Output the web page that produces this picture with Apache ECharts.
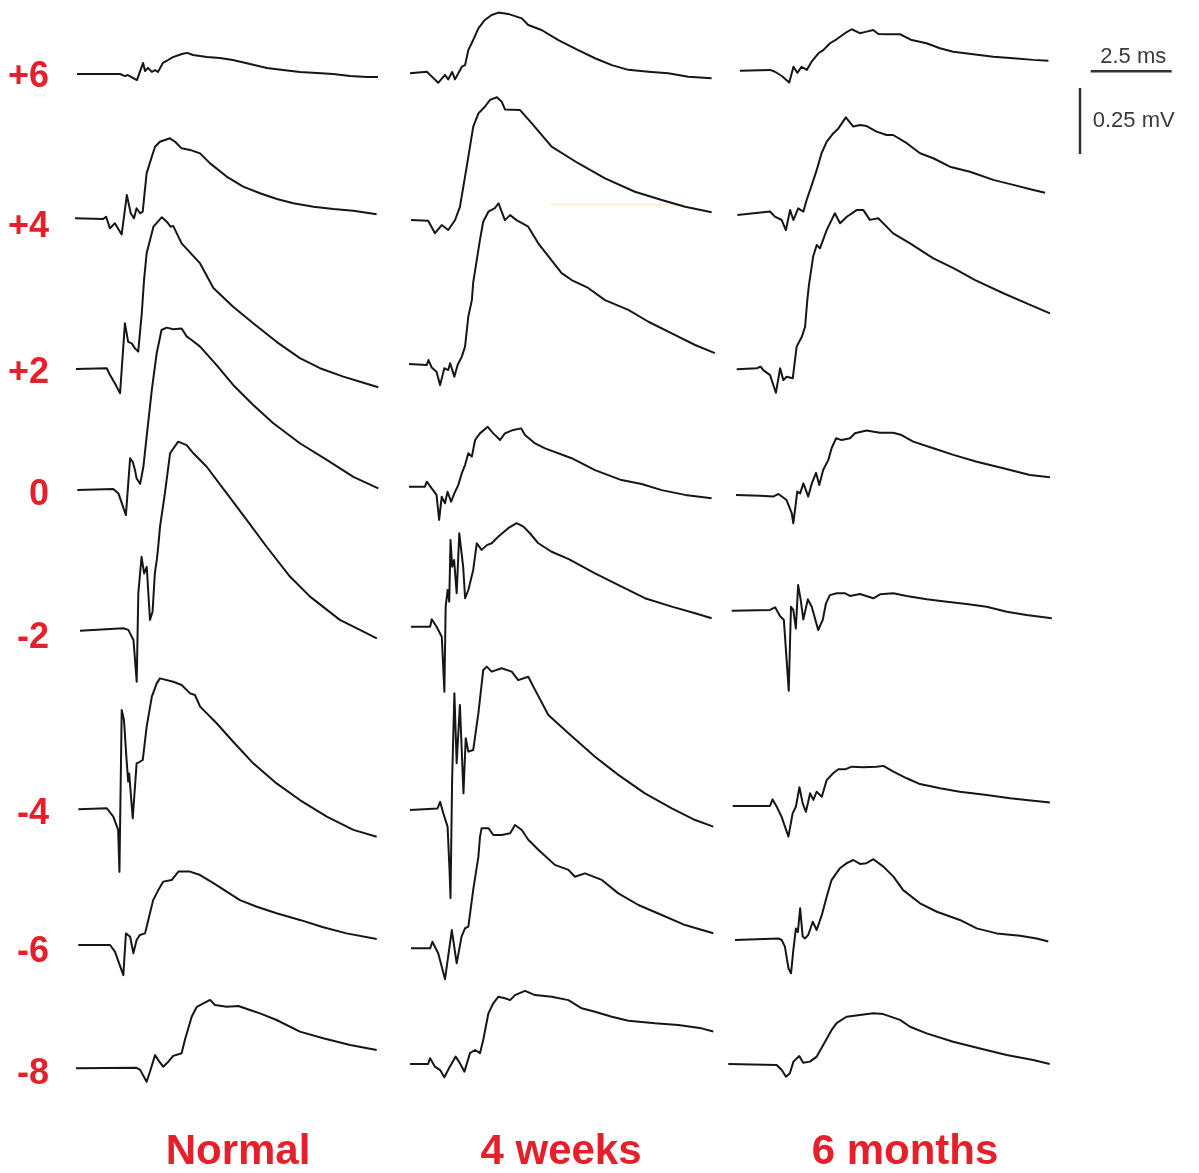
<!DOCTYPE html>
<html>
<head>
<meta charset="utf-8">
<script src="https://cdn.jsdelivr.net/npm/echarts@6/dist/echarts.min.js"></script>
<style>
  html, body { margin: 0; padding: 0; background: #ffffff; }
  #chart { width: 1199px; height: 1173px; }
</style>
</head>
<body>
<div id="chart"></div>
<script>
// Evoked field potentials: each trace is [time (ms), voltage (mV)] relative to its own baseline.

const rowLabels = ['+6', '+4', '+2', '0', '-2', '-4', '-6', '-8'];
const columnLabels = ['Normal', '4 weeks', '6 months'];
const scaleTime = 2.5;   // ms
const scaleVolt = 0.25;  // mV

// ---- Normal ----
const normal_p6 = [[0,0],[1.33,0],[1.48,-0.008],[1.57,-0.004],[1.85,-0.023],[2.04,0.042],[2.10,0.011],[2.19,0.023],[2.31,0.008],[2.41,0.015],[2.50,0.008],[2.65,0.042],[2.81,0.053],[2.96,0.064],[3.24,0.076],[3.40,0.080],[3.58,0.072],[4.01,0.064],[4.41,0.061],[4.81,0.053],[5.34,0.038],[5.86,0.023],[6.36,0.015],[6.88,0.008],[7.41,0.004],[7.90,0],[8.43,-0.008],[8.95,-0.011],[9.29,-0.011]];
const normal_p4 = [[0,0],[0.87,-0.003],[0.96,0.006],[1.08,-0.038],[1.23,-0.019],[1.44,-0.061],[1.60,0.088],[1.72,0.019],[1.82,0],[1.90,0.038],[2.01,0.019],[2.09,0.025],[2.21,0.170],[2.37,0.233],[2.47,0.271],[2.62,0.290],[2.93,0.303],[3.09,0.290],[3.29,0.265],[3.55,0.259],[3.86,0.246],[4.17,0.208],[4.68,0.158],[5.19,0.120],[5.71,0.095],[6.23,0.073],[6.74,0.057],[7.36,0.044],[7.97,0.035],[8.59,0.029],[9.31,0.015]];
const normal_p2 = [[0,0],[0.95,0.003],[1.05,-0.023],[1.23,-0.061],[1.36,-0.092],[1.51,0.173],[1.61,0.103],[1.72,0.097],[1.82,0.078],[1.92,0.066],[2.03,0.211],[2.10,0.337],[2.18,0.438],[2.39,0.539],[2.65,0.575],[2.80,0.558],[2.92,0.539],[3.00,0.542],[3.26,0.476],[3.83,0.400],[4.24,0.307],[4.85,0.236],[5.47,0.173],[6.19,0.103],[6.91,0.041],[7.53,0.003],[8.25,-0.029],[8.77,-0.048],[9.33,-0.069]];
const normal_0 = [[0,0],[1.11,0.004],[1.27,-0.013],[1.50,-0.095],[1.63,0.120],[1.71,0.107],[1.78,0.076],[1.83,0.044],[1.94,0.023],[2.04,0.088],[2.14,0.202],[2.30,0.379],[2.45,0.518],[2.60,0.606],[2.76,0.615],[2.96,0.609],[3.22,0.612],[3.38,0.581],[3.53,0.568],[3.79,0.543],[4.30,0.473],[4.81,0.398],[5.43,0.322],[6.05,0.253],[6.87,0.177],[7.70,0.114],[8.52,0.050],[9.29,0.006]];
const normal_m2 = [[0,0],[1.34,0.009],[1.49,0.003],[1.65,-0.035],[1.75,-0.193],[1.80,0.142],[1.90,0.280],[1.98,0.217],[2.06,0.242],[2.16,0.041],[2.24,0.072],[2.31,0.217],[2.37,0.268],[2.41,0.313],[2.47,0.394],[2.62,0.520],[2.78,0.672],[3.03,0.716],[3.29,0.703],[3.50,0.672],[3.91,0.621],[4.53,0.520],[5.15,0.419],[5.76,0.318],[6.48,0.205],[7.10,0.129],[8.02,0.041],[8.64,0.003],[9.16,-0.029]];
const normal_m4 = [[0,0],[0.88,0.004],[1.08,-0.028],[1.23,-0.078],[1.27,-0.237],[1.34,0.376],[1.41,0.338],[1.49,0.187],[1.54,0.105],[1.57,0.136],[1.68,-0.034],[1.80,0.174],[1.90,0.180],[1.99,0.187],[2.11,0.313],[2.27,0.427],[2.42,0.477],[2.52,0.496],[2.93,0.483],[3.19,0.471],[3.45,0.439],[3.60,0.433],[3.76,0.389],[4.27,0.326],[4.78,0.256],[5.40,0.174],[6.12,0.098],[6.84,0.035],[7.67,-0.028],[8.49,-0.078],[9.21,-0.104]];
const normal_m6 = [[0,0],[0.98,0],[1.13,-0.025],[1.39,-0.114],[1.47,0.044],[1.60,0.031],[1.70,-0.031],[1.80,0.019],[1.90,0.038],[2.06,0.044],[2.16,0.095],[2.31,0.170],[2.47,0.208],[2.62,0.240],[2.88,0.246],[3.09,0.278],[3.45,0.278],[3.76,0.265],[4.17,0.234],[4.58,0.202],[4.99,0.170],[5.51,0.145],[6.12,0.120],[6.84,0.095],[7.56,0.067],[8.28,0.044],[9.21,0.023]];
const normal_m8 = [[0,0],[1.87,0.002],[1.98,-0.006],[2.18,-0.051],[2.28,-0.014],[2.44,0.050],[2.54,0.031],[2.69,0.006],[2.85,0.025],[3.00,0.047],[3.26,0.057],[3.36,0.107],[3.57,0.195],[3.73,0.233],[3.93,0.246],[4.14,0.259],[4.29,0.240],[4.65,0.233],[5.01,0.236],[5.37,0.221],[5.68,0.208],[6.19,0.183],[6.91,0.139],[7.63,0.114],[8.46,0.088],[9.28,0.069]];

// ---- 4 weeks ----
const weeks4_p6 = [[0,0],[0.52,0.006],[0.62,-0.006],[0.87,-0.036],[1.08,-0.006],[1.18,-0.023],[1.30,0.005],[1.39,-0.023],[1.60,0.025],[1.70,0.031],[1.80,0.088],[1.95,0.126],[2.11,0.170],[2.31,0.202],[2.52,0.221],[2.73,0.230],[3.03,0.225],[3.45,0.208],[3.65,0.183],[4.06,0.164],[4.58,0.126],[5.19,0.088],[5.71,0.057],[6.23,0.031],[6.74,0.013],[7.36,0.006],[7.97,0],[8.59,-0.013],[9.31,-0.019]];
const weeks4_p4 = [[0,0],[0.53,-0.003],[0.74,-0.050],[0.95,-0.019],[1.15,-0.038],[1.36,0],[1.51,0.050],[1.72,0.202],[1.92,0.353],[2.08,0.404],[2.28,0.429],[2.44,0.455],[2.65,0.465],[2.80,0.448],[2.90,0.419],[3.36,0.417],[3.73,0.366],[4.34,0.278],[5.16,0.215],[5.99,0.158],[6.91,0.107],[7.74,0.076],[8.46,0.050],[9.28,0.029]];
const weeks4_p2 = [[0,0],[0.55,-0.004],[0.60,0.015],[0.70,-0.013],[0.85,-0.029],[0.96,-0.080],[1.09,-0.016],[1.21,-0.023],[1.27,0.003],[1.40,-0.048],[1.50,-0.004],[1.63,0.028],[1.73,0.066],[1.83,0.179],[1.94,0.242],[1.98,0.307],[2.19,0.470],[2.29,0.539],[2.45,0.577],[2.65,0.590],[2.76,0.609],[2.86,0.577],[2.96,0.545],[3.12,0.564],[3.32,0.545],[3.68,0.520],[3.99,0.457],[4.71,0.344],[5.02,0.318],[5.53,0.288],[6.05,0.242],[6.77,0.205],[7.39,0.160],[8.11,0.116],[8.83,0.072],[9.44,0.041]];
const weeks4_0 = [[0,0],[0.49,0],[0.55,0.019],[0.70,-0.006],[0.85,-0.031],[0.93,-0.126],[1.01,-0.038],[1.11,-0.063],[1.19,-0.019],[1.30,-0.057],[1.40,-0.025],[1.52,0.006],[1.63,0.051],[1.73,0.082],[1.83,0.127],[1.94,0.114],[2.04,0.177],[2.19,0.202],[2.43,0.227],[2.60,0.202],[2.81,0.177],[2.96,0.202],[3.22,0.215],[3.46,0.221],[3.58,0.196],[3.89,0.164],[4.20,0.145],[5.02,0.108],[5.74,0.063],[6.56,0.025],[7.18,0.010],[7.80,-0.013],[8.52,-0.031],[9.34,-0.044]];
const weeks4_m2 = [[0,0],[0.59,0],[0.64,0.028],[0.79,0],[0.95,-0.038],[1.03,-0.246],[1.07,0.076],[1.13,0.139],[1.18,0.095],[1.22,0.328],[1.27,0.227],[1.33,0.253],[1.41,0.127],[1.49,0.354],[1.61,0.227],[1.67,0.108],[1.77,0.139],[1.92,0.215],[2.03,0.316],[2.18,0.291],[2.34,0.309],[2.49,0.316],[2.69,0.341],[3.00,0.373],[3.26,0.392],[3.47,0.379],[3.67,0.354],[3.93,0.316],[4.34,0.284],[4.87,0.256],[5.68,0.202],[6.50,0.152],[7.22,0.108],[8.05,0.076],[8.77,0.051],[9.28,0.032]];
const weeks4_m4 = [[0,0],[0.85,0.006],[0.93,0.031],[1.03,-0.013],[1.16,-0.063],[1.22,-0.227],[1.25,-0.333],[1.30,0.114],[1.37,0.442],[1.44,0.177],[1.54,0.398],[1.65,0.063],[1.72,0.272],[1.80,0.221],[1.95,0.227],[2.11,0.366],[2.26,0.530],[2.37,0.543],[2.52,0.524],[2.83,0.537],[3.14,0.524],[3.34,0.492],[3.65,0.505],[3.86,0.455],[4.27,0.360],[4.89,0.291],[5.71,0.202],[6.43,0.133],[7.25,0.063],[8.08,0.006],[8.80,-0.038],[9.36,-0.063]];
const weeks4_m6 = [[0,0],[0.59,0],[0.66,0.025],[0.84,-0.019],[1.05,-0.117],[1.26,0.069],[1.41,-0.057],[1.56,0.044],[1.67,0.076],[1.77,0.082],[1.92,0.221],[2.08,0.347],[2.13,0.423],[2.18,0.455],[2.39,0.455],[2.54,0.429],[2.80,0.429],[3.06,0.436],[3.21,0.467],[3.42,0.448],[3.62,0.411],[3.93,0.373],[4.44,0.316],[4.86,0.297],[5.06,0.271],[5.37,0.284],[5.89,0.259],[6.40,0.208],[7.02,0.164],[7.74,0.126],[8.46,0.088],[9.33,0.057]];
const weeks4_m8 = [[0,0],[0.56,0],[0.62,0.022],[0.77,-0.010],[0.93,-0.023],[1.06,-0.050],[1.23,-0.010],[1.41,0.028],[1.54,0.003],[1.68,-0.029],[1.85,0.041],[2.01,0.053],[2.16,0.041],[2.26,0.091],[2.42,0.192],[2.57,0.230],[2.73,0.255],[2.93,0.249],[3.09,0.242],[3.24,0.261],[3.55,0.277],[3.86,0.261],[4.37,0.255],[4.89,0.242],[5.30,0.211],[5.71,0.198],[6.23,0.179],[6.74,0.164],[7.56,0.154],[8.28,0.148],[9.00,0.135],[9.36,0.123]];

// ---- 6 months ----
const months6_p6 = [[0,0],[0.93,0.003],[0.98,0.009],[1.08,-0.004],[1.29,-0.020],[1.52,-0.045],[1.65,0.015],[1.77,-0.008],[1.90,0.015],[2.06,0.003],[2.21,0.034],[2.42,0.066],[2.57,0.078],[2.78,0.104],[2.98,0.119],[3.24,0.142],[3.45,0.157],[3.60,0.148],[3.70,0.142],[3.91,0.148],[4.11,0.154],[4.27,0.139],[4.53,0.138],[4.94,0.138],[5.30,0.116],[5.76,0.104],[6.17,0.085],[6.58,0.072],[7.20,0.062],[7.82,0.053],[8.44,0.047],[9.05,0.041],[9.52,0.038]];
const months6_p4 = [[0,0],[1.01,0.013],[1.16,-0.006],[1.37,-0.019],[1.50,-0.057],[1.63,0.019],[1.73,-0.019],[1.88,0.025],[2.04,0.013],[2.14,0.057],[2.30,0.114],[2.45,0.170],[2.60,0.234],[2.76,0.278],[2.96,0.309],[3.12,0.328],[3.35,0.370],[3.58,0.335],[3.79,0.341],[3.99,0.337],[4.30,0.316],[4.61,0.303],[4.81,0.303],[5.23,0.272],[5.64,0.234],[6.05,0.215],[6.56,0.183],[7.18,0.164],[7.90,0.133],[8.52,0.114],[9.14,0.095],[9.50,0.084]];
const months6_p2 = [[0,0],[0.62,0.004],[0.74,0.010],[0.82,-0.003],[1.03,-0.022],[1.21,-0.089],[1.34,0.004],[1.44,-0.041],[1.54,-0.028],[1.73,-0.034],[1.85,0.086],[2.01,0.123],[2.11,0.161],[2.18,0.263],[2.23,0.320],[2.36,0.427],[2.47,0.471],[2.57,0.458],[2.78,0.528],[3.03,0.591],[3.19,0.553],[3.40,0.578],[3.70,0.603],[3.91,0.603],[4.11,0.566],[4.37,0.572],[4.83,0.515],[5.35,0.477],[6.07,0.420],[6.69,0.383],[7.36,0.338],[8.23,0.288],[8.95,0.250],[9.67,0.212]];
const months6_0 = [[0,0],[0.74,-0.003],[1.15,-0.006],[1.31,0.004],[1.56,-0.019],[1.72,-0.069],[1.77,-0.107],[1.89,0.013],[1.98,0.006],[2.08,0.044],[2.23,-0.006],[2.34,0.044],[2.47,0.084],[2.57,0.038],[2.69,0.095],[2.85,0.133],[2.95,0.177],[3.09,0.215],[3.26,0.208],[3.52,0.215],[3.67,0.234],[4.03,0.244],[4.44,0.236],[4.85,0.236],[5.11,0.227],[5.47,0.202],[6.09,0.177],[6.71,0.152],[7.43,0.126],[8.25,0.101],[9.07,0.076],[9.69,0.067]];
const months6_m2 = [[0,0],[1.18,0.003],[1.34,0.013],[1.49,-0.020],[1.61,-0.035],[1.76,-0.303],[1.83,0.015],[1.90,0.003],[1.98,-0.067],[2.05,0.097],[2.13,0.041],[2.21,-0.033],[2.35,0.043],[2.47,0.015],[2.67,-0.073],[2.81,-0.035],[2.91,0.028],[3.03,0.059],[3.24,0.066],[3.50,0.066],[3.65,0.056],[3.96,0.063],[4.37,0.047],[4.58,0.062],[4.99,0.066],[5.40,0.056],[6.02,0.043],[6.64,0.034],[7.25,0.025],[7.87,0.015],[8.49,-0.004],[9.10,-0.016],[9.88,-0.029]];
const months6_m4 = [[0,0],[1.15,0],[1.23,0.025],[1.36,-0.003],[1.51,-0.041],[1.72,-0.116],[1.85,-0.028],[1.95,-0.003],[2.06,0.071],[2.16,0.010],[2.26,-0.022],[2.39,0.048],[2.49,0.023],[2.59,0.054],[2.75,0.035],[2.90,0.098],[3.10,0.124],[3.26,0.139],[3.47,0.139],[3.67,0.149],[4.03,0.147],[4.44,0.149],[4.65,0.152],[4.96,0.130],[5.37,0.105],[5.78,0.083],[6.40,0.067],[7.01,0.054],[7.84,0.042],[8.56,0.029],[9.28,0.020],[9.79,0.013]];
const months6_m6 = [[0,0],[1.34,0.006],[1.44,0],[1.54,-0.025],[1.65,-0.107],[1.73,-0.126],[1.80,-0.038],[1.88,0.044],[1.94,0.030],[2.01,0.120],[2.09,0.013],[2.16,0.006],[2.26,0.019],[2.40,0.069],[2.52,0.038],[2.68,0.095],[2.83,0.164],[2.98,0.227],[3.24,0.272],[3.45,0.291],[3.65,0.303],[3.86,0.288],[4.06,0.291],[4.27,0.306],[4.58,0.278],[4.89,0.240],[5.19,0.189],[5.71,0.139],[6.23,0.107],[6.94,0.076],[7.46,0.044],[8.08,0.025],[8.80,0.016],[9.31,0.006],[9.67,-0.006]];
const months6_m8 = [[0,0],[1.49,-0.004],[1.65,-0.023],[1.78,-0.048],[1.90,-0.035],[2.01,0.009],[2.19,0.030],[2.31,0.005],[2.52,0.009],[2.73,0.028],[2.93,0.072],[3.19,0.129],[3.35,0.156],[3.65,0.179],[4.06,0.186],[4.48,0.192],[4.78,0.189],[5.30,0.167],[5.61,0.141],[6.12,0.116],[6.94,0.084],[7.77,0.059],[8.59,0.034],[9.41,0.015],[9.92,0]];

const normalTraces = [normal_p6, normal_p4, normal_p2, normal_0, normal_m2, normal_m4, normal_m6, normal_m8];
const weeks4Traces = [weeks4_p6, weeks4_p4, weeks4_p2, weeks4_0, weeks4_m2, weeks4_m4, weeks4_m6, weeks4_m8];
const months6Traces = [months6_p6, months6_p4, months6_p2, months6_0, months6_m2, months6_m4, months6_m6, months6_m8];

// ---- Layout (pixels): trace start and baseline for each row ----
const PX_PER_MS = 32.4;
const PX_PER_MV = 264;
const normalLeft = [77, 75, 76, 77.3, 80, 78.3, 78.3, 76];
const normalBase = [74, 218.3, 369, 490, 630.7, 809.3, 945, 1068.3];
const weeks4Left = [410, 411, 409, 409, 411, 410, 411, 410];
const weeks4Base = [73.3, 220, 364, 486.7, 626.7, 810, 948.3, 1064];
const months6Left = [740, 737.3, 736.7, 736, 731.7, 732.7, 735, 728.3];
const months6Base = [70.7, 215, 369.3, 495, 610.7, 806, 940, 1064];
const rowLabelY = [77, 227, 373.3, 494.7, 637.7, 813.8, 951.7, 1073.8];
const columnLabelX = [238, 561, 905];

const RED = '#e4202a';
const TRACE = '#161616';
const FONT = '"Liberation Sans", Arial, Helvetica, sans-serif';

const columns = [
  { traces: normalTraces, left: normalLeft, base: normalBase },
  { traces: weeks4Traces, left: weeks4Left, base: weeks4Base },
  { traces: months6Traces, left: months6Left, base: months6Base }
];

const grids = [], xAxes = [], yAxes = [], series = [];
columns.forEach(col => {
  col.traces.forEach((trace, i) => {
    const ts = trace.map(p => p[0]);
    const vs = trace.map(p => p[1]);
    const tMax = Math.max(...ts);
    const vMin = Math.min(...vs);
    const vMax = Math.max(...vs);
    const k = grids.length;
    grids.push({
      left: col.left[i],
      top: col.base[i] - vMax * PX_PER_MV,
      width: tMax * PX_PER_MS,
      height: (vMax - vMin) * PX_PER_MV,
      containLabel: false
    });
    xAxes.push({ type: 'value', gridIndex: k, min: 0, max: tMax, show: false });
    yAxes.push({ type: 'value', gridIndex: k, min: vMin, max: vMax, show: false });
    series.push({
      type: 'line', xAxisIndex: k, yAxisIndex: k, data: trace,
      symbol: 'none', showSymbol: false, clip: false, silent: true,
      lineStyle: { color: TRACE, width: 2, join: 'round' }
    });
  });
});

const graphics = [];
rowLabels.forEach((t, i) => {
  graphics.push({
    type: 'text', x: 49, y: rowLabelY[i],
    style: { text: t, fill: RED, font: 'bold 36px ' + FONT, textAlign: 'right', textVerticalAlign: 'middle' }
  });
});
columnLabels.forEach((t, i) => {
  graphics.push({
    type: 'text', x: columnLabelX[i], y: 1152.5,
    style: { text: t, fill: RED, font: 'bold 42px ' + FONT, textAlign: 'center', textVerticalAlign: 'middle' }
  });
});

// Scale bars
const barX = 1090.7, barY = 71.3;
graphics.push({
  type: 'line', shape: { x1: barX, y1: barY, x2: barX + scaleTime * PX_PER_MS, y2: barY },
  style: { stroke: '#333', lineWidth: 2.5 }
});
graphics.push({
  type: 'text', x: barX + scaleTime * PX_PER_MS / 2 + 2, y: 56.7,
  style: { text: scaleTime + ' ms', fill: '#3a3a3a', font: '22px ' + FONT, textAlign: 'center', textVerticalAlign: 'middle' }
});
const vBarX = 1080, vBarY = 88;
graphics.push({
  type: 'line', shape: { x1: vBarX, y1: vBarY, x2: vBarX, y2: vBarY + scaleVolt * PX_PER_MV },
  style: { stroke: '#333', lineWidth: 2.5 }
});
graphics.push({
  type: 'text', x: 1092.7, y: 121.3,
  style: { text: scaleVolt + ' mV', fill: '#3a3a3a', font: '22px ' + FONT, textAlign: 'left', textVerticalAlign: 'middle' }
});
// faint pale stroke crossing the 4-week +4 trace
graphics.push({
  type: 'line', shape: { x1: 551, y1: 204.5, x2: 683, y2: 204.5 },
  style: { stroke: '#fbefcc', lineWidth: 2 }, z: -1
});

const chart = echarts.init(document.getElementById('chart'), null, { renderer: 'canvas' });
chart.setOption({
  animation: false,
  backgroundColor: '#ffffff',
  grid: grids,
  xAxis: xAxes,
  yAxis: yAxes,
  series: series,
  graphic: graphics
});
</script>
</body>
</html>
